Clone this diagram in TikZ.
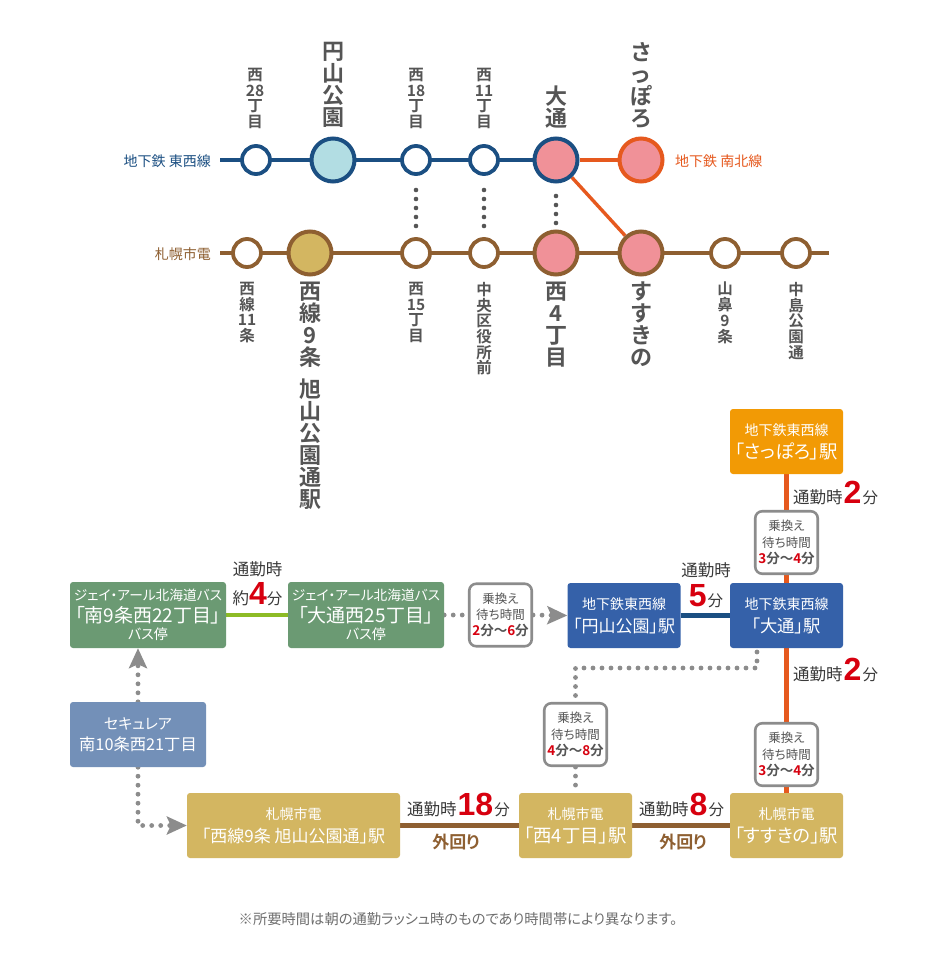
\documentclass[tikz,border=0pt]{standalone}
\usepackage{fontspec}
\setmainfont[RawFeature={+palt},BoldFont={Noto Sans CJK JP Bold}]{Noto Sans CJK JP}
\newfontfamily\numfont[BoldFont={Liberation Sans Bold}]{Liberation Sans}
\usetikzlibrary{backgrounds,arrows.meta}
\definecolor{cblue}{HTML}{1B4F82}
\definecolor{corange}{HTML}{E6591E}
\definecolor{cbrown}{HTML}{8E5F31}
\definecolor{cpink}{HTML}{F09198}
\definecolor{clight}{HTML}{B2DDE3}
\definecolor{cgold}{HTML}{D3B661}
\definecolor{cbox}{HTML}{3561A9}
\definecolor{cgreen}{HTML}{6B9A73}
\definecolor{cslate}{HTML}{7390B8}
\definecolor{camber}{HTML}{F29A05}
\definecolor{clime}{HTML}{8DBB25}
\definecolor{ctext}{HTML}{555555}
\definecolor{cdark}{HTML}{3A3A3A}
\definecolor{cred}{HTML}{D7000F}
\definecolor{cdot}{HTML}{8C8C8C}
\newcommand{\sz}[2]{\fontsize{#1}{#2}\selectfont}
\newcommand{\nm}[2]{{\numfont\bfseries\color{cred}\fontsize{#1}{#1}\selectfont #2}}
\newcommand{\rd}[1]{{\color{cred}#1}}
\newcommand{\fun}[2]{\sz{16.5}{23}\textcolor{cdark}{通勤時}\kern1pt\nm{#1}{#2}\kern1pt\textcolor{cdark}{\sz{15.5}{23}分}}
\tikzset{
  smallst/.style={circle,draw,fill=white,line width=3.8pt,minimum size=28pt,inner sep=0pt},
  bigst/.style={circle,draw,line width=4pt,minimum size=43pt,inner sep=0pt},
  vsmall/.style={anchor=north,inner sep=0pt,align=center,text=ctext,font=\bfseries\sz{15.5}{15.7}},
  vbig/.style={anchor=north,inner sep=0pt,align=center,text=ctext,font=\bfseries\sz{22}{22}},
  linelab/.style={inner sep=0pt,font=\sz{14}{14}},
  stbox/.style={rectangle,rounded corners=3pt,inner sep=0pt,text=white,align=center,font=\sz{14}{23}},
  busbox/.style={stbox,fill=cgreen,minimum width=156pt,minimum height=66pt,font=\sz{13.7}{19}},
  waitbox/.style={rectangle,rounded corners=7pt,draw=cdot,line width=2.6pt,fill=white,inner sep=0pt,
    minimum width=62.5pt,minimum height=62.5pt,align=center,text=ctext,font=\sz{12.5}{16.2}},
  rail/.style={line width=3.4pt},
  routeline/.style={line width=4.2pt},
  vdots/.style={draw=ctext,line width=4.6pt,line cap=round,dash pattern=on 0pt off 9pt},
  gdots/.style={draw=cdot,line width=4.8pt,line cap=round,dash pattern=on 0pt off 9pt},
  gtip/.style={-{Stealth[length=20pt,width=18pt,inset=4pt,fill=cdot,line cap=butt]}},
  timelab/.style={inner sep=0pt,align=center,font=\sz{16.5}{24}},
  outer/.style={inner sep=0pt,text=cbrown,font=\bfseries\sz{17}{17}}
}
\begin{document}
\begin{tikzpicture}[x=1pt,y=-1pt]
\useasboundingbox (0,0) rectangle (950,962);
% stations
\node[smallst,draw=cblue] (w28) at (256,160) {};
\node[bigst,draw=cblue,fill=clight] (maru) at (333,160) {};
\node[smallst,draw=cblue] (w18) at (416,160) {};
\node[smallst,draw=cblue] (w11) at (484,160) {};
\node[bigst,draw=cblue,fill=cpink] (odori) at (556,160) {};
\node[bigst,draw=corange,fill=cpink] (sapporo) at (641,160) {};
\node[smallst,draw=cbrown] (t11) at (247,253) {};
\node[bigst,draw=cbrown,fill=cgold] (t9) at (310,253) {};
\node[smallst,draw=cbrown] (t15) at (416,253) {};
\node[smallst,draw=cbrown] (tward) at (484,253) {};
\node[bigst,draw=cbrown,fill=cpink] (t4) at (556,253) {};
\node[bigst,draw=cbrown,fill=cpink] (susu) at (641,253) {};
\node[smallst,draw=cbrown] (yama) at (725,253) {};
\node[smallst,draw=cbrown] (naka) at (796,253) {};
\coordinate (bl) at (220,160);
\coordinate (tl) at (220,253);
\coordinate (tr) at (829,253);
% line names
\node[linelab,text=cblue,anchor=east] (ltoz) at (211,161) {地下鉄 東西線};
\node[linelab,text=corange,anchor=west] (lnan) at (675,161) {地下鉄 南北線};
\node[linelab,text=cbrown,anchor=east] (ltram) at (211,254) {札幌市電};
% station names, top
\node[vsmall] (n1) at (255,68) {西\\28\\丁\\目};
\node[vbig] (n2) at (333,42) {円\\山\\公\\園};
\node[vsmall] (n3) at (416,68) {西\\18\\丁\\目};
\node[vsmall] (n4) at (484,68) {西\\11\\丁\\目};
\node[vbig] (n5) at (556,86) {大\\通};
\node[vbig] (n6) at (641,42) {さ\\っ\\ぽ\\ろ};
% station names, bottom
\node[vsmall] (s1) at (247,282) {西\\線\\11\\条};
\node[vbig] (s2) at (310,282) {西\\線\\9\\条\\[10pt]旭\\山\\公\\園\\通\\駅};
\node[vsmall] (s3) at (416,282) {西\\15\\丁\\目};
\node[vsmall] (s4) at (484,282) {中\\央\\区\\役\\所\\前};
\node[vbig] (s5) at (556,282) {西\\4\\丁\\目};
\node[vbig] (s6) at (641,282) {す\\す\\き\\の};
\node[vsmall] (s7) at (725,282) {山\\鼻\\9\\条};
\node[vsmall] (s8) at (796,282) {中\\島\\公\\園\\通};
% route boxes
\node[stbox,fill=camber,minimum width=113pt,minimum height=65pt] (bsap) at (786.5,441.5)
  {地下鉄東西線\\\sz{18.3}{23}「さっぽろ」駅};
\node[stbox,fill=cbox,minimum width=113pt,minimum height=65pt] (bodo) at (786.5,615.5)
  {地下鉄東西線\\\sz{17.3}{23}「大通」駅};
\node[stbox,fill=cbox,minimum width=113pt,minimum height=65pt] (bmar) at (624,615.5)
  {地下鉄東西線\\\sz{17}{23}「円山公園」駅};
\node[busbox] (bus1) at (148,615)
  {ジェイ・アール北海道バス\\[3pt]\sz{19}{19}「南9条西22丁目」\\[-2pt]\sz{14}{19}バス停};
\node[busbox] (bus2) at (366,615)
  {ジェイ・アール北海道バス\\[3pt]\sz{19}{19}「大通西25丁目」\\[-2pt]\sz{14}{19}バス停};
\node[stbox,fill=cslate,minimum width=136pt,minimum height=65pt,font=\sz{15}{21}] (home) at (138,734.5)
  {セキュレア\\\sz{16.3}{21}南10条西21丁目};
\node[stbox,fill=cgold,minimum width=213pt,minimum height=65pt] (tram) at (293.5,825.5)
  {札幌市電\\\sz{17}{23}「西線9条 旭山公園通」駅};
\node[stbox,fill=cgold,minimum width=113pt,minimum height=65pt] (tnis) at (575.5,825.5)
  {札幌市電\\\sz{18.4}{23}「西4丁目」駅};
\node[stbox,fill=cgold,minimum width=113pt,minimum height=65pt] (tsus) at (786.5,825.5)
  {札幌市電\\\sz{18.3}{23}「すすきの」駅};
% waiting time boxes
\node[waitbox] (wa) at (500.5,615) {乗換え\\待ち時間\\\bfseries\sz{13.5}{17}\rd{2}分～\rd{6}分};
\node[waitbox] (wb) at (786.5,542.5) {乗換え\\待ち時間\\\bfseries\sz{13.5}{17}\rd{3}分～\rd{4}分};
\node[waitbox] (wc) at (575.5,734.5) {乗換え\\待ち時間\\\bfseries\sz{13.5}{17}\rd{4}分～\rd{8}分};
\node[waitbox] (wd) at (786.5,754.5) {乗換え\\待ち時間\\\bfseries\sz{13.5}{17}\rd{3}分～\rd{4}分};
% time labels
\node[timelab,anchor=west] (t1) at (793,493) {\fun{32}{2}};
\node[timelab,anchor=west] (t2) at (793,670) {\fun{32}{2}};
\node[timelab,anchor=west] (t3) at (639,805) {\fun{32}{8}};
\node[timelab,anchor=west] (t4b) at (407,805) {\fun{32}{18}};
\node[timelab] (t5) at (257.5,584) {\textcolor{cdark}{通勤時}\\[5pt]\textcolor{cdark}{約}\nm{32}{4}\textcolor{cdark}{\sz{15.5}{24}分}};
\node[timelab,font=\sz{16.5}{26}] (t6) at (706,585) {\textcolor{cdark}{通勤時}\\[4pt]\nm{32}{5}\kern1pt\textcolor{cdark}{\sz{15.5}{26}分}};
\node[outer] (o1) at (456,842) {外回り};
\node[outer] (o2) at (683,842) {外回り};
\node[inner sep=0pt,text=ctext!85!white,font=\sz{14.3}{15}] (note) at (458,919) {※所要時間は朝の通勤ラッシュ時のものであり時間帯により異なります。};
% helper points of the dotted transfer path
\coordinate (da) at (757,652);
\coordinate (db) at (757,668);
\coordinate (dc) at (575.5,668);
% connectors
\begin{scope}[on background layer]
\fill[white] (0,0) rectangle (950,962);
\draw[rail,cblue] (bl) -- (odori);
\draw[rail,corange] (odori) -- (sapporo);
\draw[rail,corange] (odori) -- (susu);
\draw[rail,cbrown] (tl) -- (tr);
\draw[vdots] (416,190) -- (w18.south |- 227,227);
\draw[vdots] (484,190) -- (w11.south |- 227,227);
\draw[vdots] (556,196) -- (odori.south |- 224,224);
\draw[routeline,corange] (bsap) -- (bodo);
\draw[routeline,corange] (bodo) -- (tsus);
\draw[routeline,cblue] (bmar) -- (bodo);
\draw[routeline,clime] (bus1) -- (bus2);
\draw[routeline,cbrown] (tram) -- (tnis);
\draw[routeline,cbrown] (tnis) -- (tsus);
\draw[gdots] (bus2.east) -- (wa.west);
\draw[gdots,gtip] (wa.east) -- (bmar.west);
\draw[gdots,gtip] (home.north) -- (bus1.south -| home.north);
\draw[gdots,gtip] (home.south) |- (tram.west);
\draw[gdots] (da) -- (db) -- (dc) -- (wc.north);
\draw[gdots] (wc.south) -- (tnis.north);
\end{scope}
\end{tikzpicture}
\end{document}
